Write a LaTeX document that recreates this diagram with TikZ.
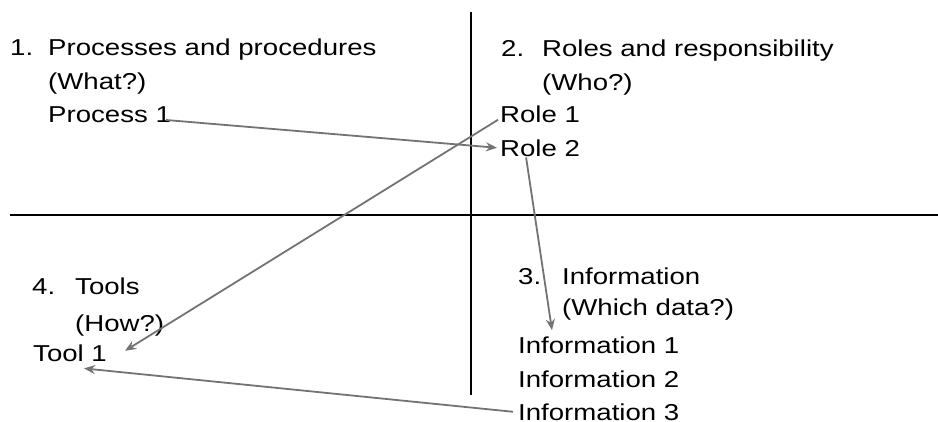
\documentclass[tikz,border=0pt]{standalone}
\usepackage{fontspec}
\setmainfont{Liberation Sans}[FakeStretch=1.2]
\usetikzlibrary{calc,arrows.meta}
\begin{document}
\begin{tikzpicture}[x=1pt,y=-1pt,
  lbl/.style={anchor=base west,inner sep=0pt,font=\fontsize{23}{27}\selectfont},
  axis/.style={draw=black,line width=1.6pt},
  arr/.style={draw=gray!90!black,line width=1.8pt,-{Stealth[length=11pt,width=9pt]}}]
\useasboundingbox (0,0) rectangle (938,422);
% axes
\coordinate (vt) at (471,12);
\coordinate (vb) at (471,395);
\coordinate (hl) at (10,215);
\coordinate (hr) at (938,215);
\draw[axis] (vt) -- (vb);
\draw[axis] (hl) -- (hr);
% quadrant 1
\node[lbl] (n1) at (10,56) {1.};
\node[lbl] (h1) at (48,56) {Processes and procedures};
\node[lbl] (q1) at (48,90) {(What?)};
\node[lbl] (p1) at (48,123) {Process 1};
% quadrant 2
\node[lbl] (n2) at (501,57) {2.};
\node[lbl] (h2) at (542,57) {Roles and responsibility};
\node[lbl] (q2) at (542,91) {(Who?)};
\node[lbl] (r1) at (500,123) {Role 1};
\node[lbl] (r2) at (500,157) {Role 2};
% quadrant 3
\node[lbl] (n3) at (518,285) {3.};
\node[lbl] (h3) at (562,285) {Information};
\node[lbl] (q3) at (562,316) {(Which data?)};
\node[lbl] (i1) at (518,353) {Information 1};
\node[lbl] (i2) at (518,387) {Information 2};
\node[lbl] (i3) at (518,420) {Information 3};
% quadrant 4
\node[lbl] (n4) at (32,295) {4.};
\node[lbl] (h4) at (75,295) {Tools};
\node[lbl] (q4) at (75,331) {(How?)};
\node[lbl] (t1) at (33,362) {Tool 1};
% arrows
\draw[arr] ($(p1.base east)+(-5,-3)$) -- ($(r2.west)+(-3,-1)$);
\draw[arr] ($(r1.west)+(-2,5)$) -- ($(t1.east)+(18,-3)$);
\draw[arr] ($(r2.south)+(-14,0)$) -- ($(i1.north west)+(34,-6)$);
\draw[arr] ($(i3.west)+(-5,0)$) -- ($(t1.south)+(14,6)$);
\end{tikzpicture}
\end{document}
